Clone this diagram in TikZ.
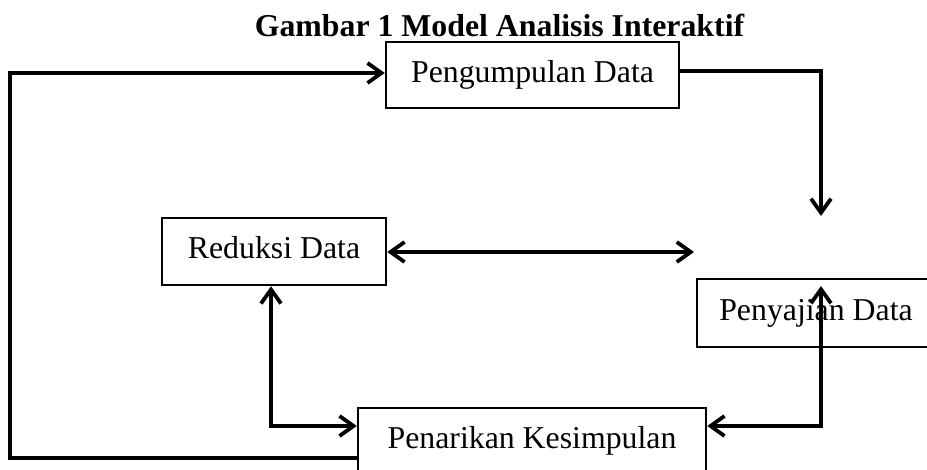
\documentclass[tikz,border=0pt]{standalone}
\usepackage{fontspec}
\setmainfont{Liberation Serif}
\usetikzlibrary{arrows.meta}
\begin{document}
\begin{tikzpicture}[x=1pt,y=-1pt,
  >={Straight Barb[length=14pt,width=20pt]},
  box/.style={draw,line width=2.5pt,rectangle,inner sep=0pt,
    text height=21.6pt,text depth=7pt,
    font=\fontsize{31.8}{38}\selectfont},
  conn/.style={line width=3.8pt,line join=miter}]
\useasboundingbox (0,0) rectangle (927,470);
\clip (0,0) rectangle (927,470);
\fill[white] (0,0) rectangle (927,470);
\node[anchor=base,font=\fontsize{31.8}{38}\selectfont\bfseries] (title) at (499.5,37) {Gambar 1 Model Analisis Interaktif};
\node[box,minimum width=293pt,minimum height=66pt] (peng) at (532.5,75) {Pengumpulan Data};
\node[box,minimum width=224pt,minimum height=67pt] (red) at (274,251.5) {Reduksi Data};
\node[box,minimum width=238pt,minimum height=68pt] (saji) at (816,313) {Penyajian Data};
\node[box,minimum width=348pt,minimum height=66pt] (kes) at (532,441) {Penarikan Kesimpulan};
\coordinate (lt) at (10,73);
\coordinate (lb) at (10,458);
\coordinate (rt) at (821,71);
\coordinate (rd) at (821,216);
\coordinate (mid) at (694,252);
\coordinate (lv) at (271,426);
\coordinate (rv) at (821,426);
\coordinate (rtip) at (821,286);
% feedback loop
\draw[conn,->] (lb -| kes.west) -- (lb) -- (lt) -- (lt -| peng.west);
% pengumpulan to penyajian
\draw[conn,->] (rt -| peng.east) -- (rt) -- (rd);
% reduksi <-> penyajian
\draw[conn,<->] (red.east |- mid) -- (mid);
% reduksi <-> kesimpulan
\draw[conn,<->] (lv |- red.south) -- (lv) -- (lv -| kes.west);
% kesimpulan <-> penyajian
\draw[conn,<->] (rv -| kes.east) -- (rv) -- (rtip);
\end{tikzpicture}
\end{document}
